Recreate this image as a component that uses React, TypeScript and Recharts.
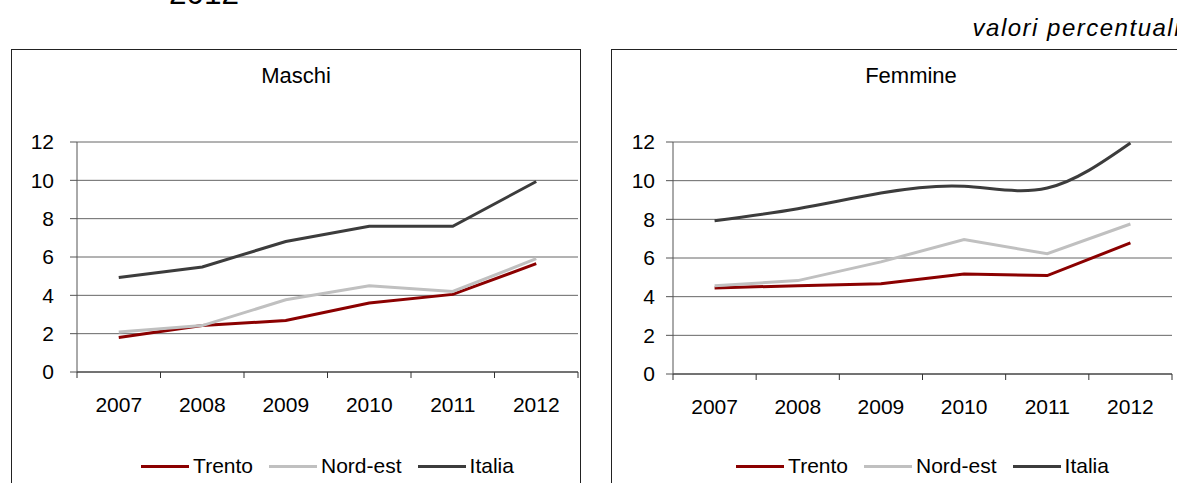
import React from "react";
import { LineChart, Line, XAxis, YAxis, CartesianGrid } from "recharts";

// categories and values (percent)
const years = ["2007", "2008", "2009", "2010", "2011", "2012"];
const yTicks = [0, 2, 4, 6, 8, 10, 12];

const maschiTrento = [1.8, 2.42, 2.69, 3.6, 4.05, 5.65];
const maschiNordEst = [2.09, 2.42, 3.77, 4.5, 4.2, 5.91];
const maschiItalia = [4.93, 5.48, 6.81, 7.6, 7.6, 9.94];

const femmineTrento = [4.45, 4.57, 4.67, 5.17, 5.09, 6.78];
const femmineNordEst = [4.57, 4.83, 5.8, 6.95, 6.22, 7.76];
const femmineItalia = [7.93, 8.55, 9.36, 9.71, 9.62, 11.95];

const seriesNames = ["Trento", "Nord-est", "Italia"];
const seriesKeys = ["trento", "nordest", "italia"];
const seriesColors = ["#8b0000", "#c0c0c0", "#3c3c3c"];

const FONT = "'Liberation Sans', Arial, Helvetica, sans-serif";
const X_TICK_SIZE = 6;
const X_TICK_MARGIN = 19;

// ticks at category borders (integers) and labels at category centres (halves)
const xTicks = [0, ...years.flatMap((_, i) => [i + 0.5, i + 1])];

const buildData = (trento: number[], nordest: number[], italia: number[]) =>
  years.map((year, i) => ({
    x: i + 0.5,
    year,
    trento: trento[i],
    nordest: nordest[i],
    italia: italia[i]
  }));

const maschiData = buildData(maschiTrento, maschiNordEst, maschiItalia);
const femmineData = buildData(femmineTrento, femmineNordEst, femmineItalia);

const XTick = (props: any) => {
  const { x, y, payload } = props;
  const v = payload.value as number;
  if (Number.isInteger(v)) {
    return (
      <line
        x1={x}
        x2={x}
        y1={y - X_TICK_MARGIN - X_TICK_SIZE}
        y2={y - X_TICK_MARGIN}
        stroke="#333"
      />
    );
  }
  return (
    <text
      x={x}
      y={y}
      dy="0.71em"
      textAnchor="middle"
      fontSize={21}
      fill="#000"
      fontFamily={FONT}
    >
      {years[Math.round(v - 0.5)]}
    </text>
  );
};

interface PanelProps {
  title: string;
  data: any[];
  boxLeft: number;
  boxWidth: number;
  chartLeft: number;
  chartWidth: number;
  bottom: number;
  yLabelGap: number;
  italiaCurve: "linear" | "natural";
}

const Panel = ({ title, data, boxLeft, boxWidth, chartLeft, chartWidth, bottom, yLabelGap, italiaCurve }: PanelProps) => {
  const yAxisWidth = 77;
  const marginRight = 2;
  const plotLeft = chartLeft + yAxisWidth;
  const plotWidth = chartWidth - yAxisWidth - marginRight;

  return (
    <>
      {/* frame */}
      <div
        style={{
          position: "absolute",
          left: boxLeft,
          top: 49,
          width: boxWidth,
          height: 460,
          border: "1px solid #222",
          boxSizing: "border-box"
        }}
      />

      {/* title */}
      <div
        style={{
          position: "absolute",
          left: boxLeft,
          top: 63,
          width: boxWidth,
          textAlign: "center",
          fontSize: 22,
          fontFamily: FONT,
          color: "#000"
        }}
      >
        {title}
      </div>

      <div style={{ position: "absolute", left: chartLeft, top: 0 }}>
        <LineChart
          width={chartWidth}
          height={483}
          data={data}
          margin={{ top: 142, right: marginRight, bottom: bottom, left: 0 }}
        >
          <CartesianGrid vertical={false} stroke="#666" />
          <XAxis
            dataKey="x"
            type="number"
            domain={[0, years.length]}
            ticks={xTicks}
            interval={0}
            height={40}
            tickLine={false}
            tickSize={X_TICK_SIZE}
            tickMargin={X_TICK_MARGIN}
            axisLine={{ stroke: "#333" }}
            tick={<XTick />}
          />
          <YAxis
            type="number"
            domain={[0, 12]}
            ticks={yTicks}
            interval={0}
            width={yAxisWidth}
            tickSize={7}
            tickMargin={yLabelGap}
            axisLine={{ stroke: "#555" }}
            tickLine={{ stroke: "#555" }}
            tick={{ fontSize: 21, fill: "#000", fontFamily: FONT }}
          />
          {seriesKeys.map((key, i) => (
            <Line
              key={key}
              dataKey={key}
              type={key === "italia" ? italiaCurve : "linear"}
              stroke={seriesColors[i]}
              strokeWidth={3}
              dot={false}
              isAnimationActive={false}
            />
          ))}
        </LineChart>
      </div>

      {/* legend */}
      <div
        style={{
          position: "absolute",
          left: plotLeft,
          width: plotWidth,
          top: 454,
          display: "flex",
          justifyContent: "center",
          alignItems: "center",
          fontSize: 21,
          fontFamily: FONT,
          color: "#000"
        }}
      >
        {seriesNames.map((name, i) => (
          <div key={name} style={{ display: "flex", alignItems: "center", marginLeft: i === 0 ? 0 : 16 }}>
            <span
              style={{
                display: "inline-block",
                width: 48,
                height: 3,
                background: seriesColors[i],
                marginRight: 4
              }}
            />
            <span>{name}</span>
          </div>
        ))}
      </div>
    </>
  );
};

export default function App() {
  return (
    <div
      style={{
        position: "absolute",
        left: 0,
        top: 0,
        width: 1177,
        height: 483,
        overflow: "hidden",
        background: "#fff",
        fontFamily: FONT
      }}
    >
      <div
        style={{
          position: "absolute",
          left: 169,
          top: -25,
          fontSize: 31.5,
          fontFamily: FONT,
          color: "#000",
          whiteSpace: "nowrap"
        }}
      >
        2012
      </div>

      <div
        style={{
          position: "absolute",
          right: -4,
          top: 14,
          fontSize: 24,
          letterSpacing: 1.5,
          fontStyle: "italic",
          fontFamily: FONT,
          color: "#000",
          whiteSpace: "nowrap"
        }}
      >
        valori percentuali
      </div>

      <Panel
        title="Maschi"
        data={maschiData}
        boxLeft={11}
        boxWidth={570}
        chartLeft={0}
        chartWidth={580}
        bottom={71}
        yLabelGap={16}
        italiaCurve="linear"
      />
      <Panel
        title="Femmine"
        data={femmineData}
        boxLeft={611}
        boxWidth={600}
        chartLeft={596}
        chartWidth={578}
        bottom={69}
        yLabelGap={11}
        italiaCurve="natural"
      />
    </div>
  );
}
